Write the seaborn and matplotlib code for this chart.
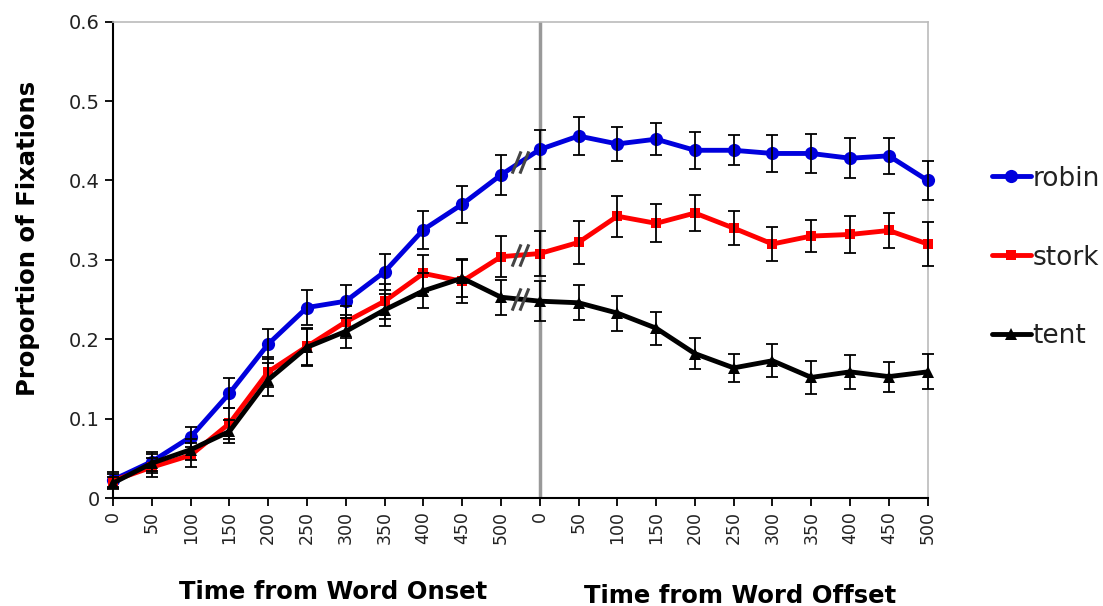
import numpy as np
import pandas as pd
import matplotlib
matplotlib.use("Agg")
import matplotlib.pyplot as plt
from matplotlib.path import Path
import seaborn as sns

# time bins (ms) from word onset and from word offset
onset_times = [0, 50, 100, 150, 200, 250, 300, 350, 400, 450, 500]
offset_times = [0, 50, 100, 150, 200, 250, 300, 350, 400, 450, 500]
tick_labels = [str(t) for t in onset_times + offset_times]

words = ["robin", "stork", "tent"]

robin = [0.023, 0.046, 0.077, 0.132, 0.194, 0.240, 0.248, 0.285, 0.338, 0.370, 0.407,
         0.439, 0.456, 0.446, 0.452, 0.438, 0.438, 0.434, 0.434, 0.428, 0.431, 0.400]
robin_se = [0.010, 0.012, 0.013, 0.019, 0.019, 0.022, 0.021, 0.023, 0.024, 0.023, 0.025,
            0.024, 0.024, 0.021, 0.020, 0.023, 0.019, 0.023, 0.025, 0.025, 0.023, 0.025]
stork = [0.022, 0.039, 0.054, 0.094, 0.159, 0.191, 0.222, 0.248, 0.283, 0.273, 0.304,
         0.308, 0.322, 0.355, 0.346, 0.359, 0.340, 0.320, 0.330, 0.332, 0.337, 0.320]
stork_se = [0.008, 0.012, 0.015, 0.020, 0.019, 0.023, 0.020, 0.022, 0.023, 0.027, 0.026,
            0.028, 0.027, 0.026, 0.024, 0.023, 0.021, 0.021, 0.020, 0.023, 0.022, 0.028]
tent = [0.019, 0.044, 0.061, 0.084, 0.149, 0.190, 0.210, 0.237, 0.261, 0.277, 0.253,
        0.248, 0.246, 0.233, 0.214, 0.182, 0.164, 0.173, 0.152, 0.159, 0.153, 0.159]
tent_se = [0.008, 0.012, 0.013, 0.015, 0.021, 0.023, 0.021, 0.020, 0.022, 0.024, 0.022,
           0.025, 0.022, 0.022, 0.021, 0.020, 0.018, 0.021, 0.021, 0.021, 0.019, 0.022]

colors = {"robin": "#0000dd", "stork": "#ff0000", "tent": "#000000"}
markers = {"robin": "o", "stork": "s", "tent": "^"}
msizes = {"robin": 9.5, "stork": 7.5, "tent": 9}

pos = list(range(len(tick_labels)))
df = pd.DataFrame({
    "pos": pos * 3,
    "prop": robin + stork + tent,
    "se": robin_se + stork_se + tent_se,
    "word": ["robin"] * len(pos) + ["stork"] * len(pos) + ["tent"] * len(pos),
})

sns.set_style("ticks")
plt.rcParams["font.family"] = ["DejaVu Sans"]
plt.rcParams["text.color"] = "black"

fig = plt.figure(figsize=(11.03, 6.06), dpi=100)
ax = fig.add_axes([0.1025, 0.178, 0.7385, 0.7863])

handles = []
for w in words:
    sub = df[df["word"] == w]
    sns.lineplot(x="pos", y="prop", data=sub, color=colors[w], marker=markers[w],
                 markersize=msizes[w], markeredgewidth=0, linewidth=3.5,
                 ax=ax, label=w, legend=False, zorder=3, clip_on=False)
    handles.append(ax.lines[-1])
for w in words:
    sub = df[df["word"] == w]
    ax.errorbar(sub["pos"], sub["prop"], yerr=sub["se"], fmt="none", ecolor="black",
                elinewidth=1.3, capsize=4.3, capthick=1.3, zorder=4, clip_on=False)

# "//" break marks between onset and offset segments
brk = Path([(-0.75, -1), (0.05, 1), (-0.05, -1), (0.75, 1)],
           [Path.MOVETO, Path.LINETO, Path.MOVETO, Path.LINETO])
for w in words:
    sub = df[df["word"] == w].reset_index(drop=True)
    mid = (sub.loc[10, "prop"] + sub.loc[11, "prop"]) / 2
    ax.plot([10.5], [mid], marker=brk, markersize=16, markeredgewidth=2.2,
            color="#444444", linestyle="none", zorder=5)

ax.axvline(11, color="#999999", linewidth=2.5, zorder=2)

ax.set_xlim(0, 21)
ax.set_ylim(0, 0.6)
ax.set_xticks(pos)
ax.set_xticklabels(tick_labels, rotation=90, fontsize=12.5)
ax.set_yticks([0, 0.1, 0.2, 0.3, 0.4, 0.5, 0.6])
ax.set_yticklabels(["0", "0.1", "0.2", "0.3", "0.4", "0.5", "0.6"], fontsize=14)
ax.tick_params(axis="both", direction="out", length=6, width=1.3, color="black",
               labelcolor="#222222")
ax.set_xlabel("")
ax.set_ylabel("")

for s in ["left", "bottom"]:
    ax.spines[s].set_color("black")
    ax.spines[s].set_linewidth(1.5)
for s in ["top", "right"]:
    ax.spines[s].set_color("#bbbbbb")
    ax.spines[s].set_linewidth(1.2)

fig.text(28 / 1103, 1 - 238 / 606, "Proportion of Fixations", rotation=90,
         ha="center", va="center", fontsize=17.5, fontweight="bold", color="black")
fig.text(333 / 1103, 1 - 592 / 606, "Time from Word Onset",
         ha="center", va="center", fontsize=17.5, fontweight="bold", color="black")
fig.text(740 / 1103, 1 - 596 / 606, "Time from Word Offset",
         ha="center", va="center", fontsize=17.5, fontweight="bold", color="black")

leg = ax.legend(handles=handles, labels=words, loc="center left",
                bbox_to_anchor=(1.0785, 0.505), frameon=False, fontsize=19,
                handlelength=1.5, handletextpad=0.05, labelspacing=2.0,
                borderaxespad=0, borderpad=0)
for t in leg.get_texts():
    t.set_color("#222222")

fig.savefig("out.png", dpi=100)
